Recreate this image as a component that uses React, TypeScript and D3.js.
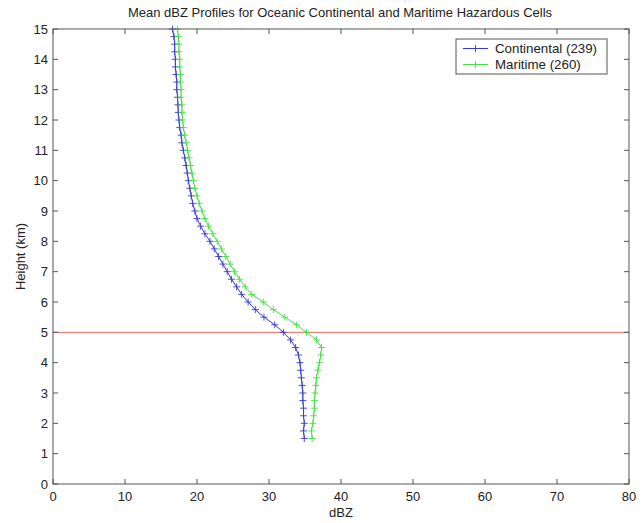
import * as d3 from 'd3'

// heights (km) of the profile levels, 0.25 km apart
const heights = d3.range(1.5, 15.01, 0.25)

// mean dBZ per level
const continental = [
  34.9, 34.8, 34.9, 34.8, 34.8, 34.7, 34.7, 34.6, 34.5, 34.4, 34.3, 34.1, 33.7, 33.0,
  32.0, 30.8, 29.3, 28.1, 27.1, 26.2, 25.5, 24.8, 24.2, 23.6, 23.0, 22.4, 21.8, 21.1,
  20.5, 20.0, 19.7, 19.4, 19.2, 19.0, 18.8, 18.65, 18.5, 18.3, 18.1, 17.9, 17.8, 17.6,
  17.5, 17.4, 17.35, 17.3, 17.2, 17.2, 17.1, 17.0, 17.0, 16.9, 16.9, 16.8, 16.6,
]
const maritime = [
  36.0, 35.9, 36.1, 36.2, 36.3, 36.3, 36.4, 36.5, 36.6, 36.8, 37.0, 37.2, 37.3, 36.6,
  35.2, 33.8, 32.2, 30.6, 29.2, 27.6, 26.7, 25.9, 25.2, 24.6, 24.0, 23.4, 22.8, 22.2,
  21.6, 21.1, 20.7, 20.3, 20.0, 19.7, 19.5, 19.3, 19.1, 18.9, 18.7, 18.5, 18.3, 18.1,
  18.0, 17.9, 17.9, 17.8, 17.8, 17.7, 17.7, 17.6, 17.6, 17.5, 17.5, 17.4, 17.3,
]
const seriesNames = ['Continental (239)', 'Maritime (260)']
const seriesColors = ['#3a3ad0', '#44e044']
const xTicks = [0, 10, 20, 30, 40, 50, 60, 70, 80]
const yTicks = d3.range(0, 16)
const freezingLevel = 5

const W = 644
const H = 523
const left = 53
const right = 629
const top = 29
const bottom = 484
const font = '"Liberation Sans", Arial, sans-serif'

export default function App() {
  const x = d3.scaleLinear().domain([0, 80]).range([left, right])
  const y = d3.scaleLinear().domain([0, 15]).range([bottom, top])

  const line = d3.line<[number, number]>()
    .x(d => x(d[0]))
    .y(d => y(d[1]))

  const series = [continental, maritime].map(vals =>
    vals.map((v, i) => [v, heights[i]] as [number, number]))

  const plus = (cx: number, cy: number, color: string, key: string) => (
    <path key={key} d={`M${cx - 3.5},${cy}H${cx + 3.5}M${cx},${cy - 3.5}V${cy + 3.5}`}
      stroke={color} strokeWidth={0.9} />
  )

  const tickLen = 5
  const axisColor = '#555'

  return (
    <svg width={W} height={H} style={{ position: 'absolute', left: 0, top: 0, background: '#fff' }}
      fontFamily={font}>
      <rect x={0} y={0} width={W} height={H} fill="#fff" />

      {/* title */}
      <text x={(left + right) / 2 - 1} y={17} textAnchor="middle" fontSize={13} fill="#222">
        Mean dBZ Profiles for Oceanic Continental and Maritime Hazardous Cells
      </text>

      {/* freezing level */}
      <line x1={left} x2={right} y1={y(freezingLevel)} y2={y(freezingLevel)}
        stroke="#e06a6a" strokeWidth={1} />

      {/* profiles */}
      {series.map((pts, si) => (
        <g key={si}>
          <path d={line(pts) ?? ''} fill="none" stroke={seriesColors[si]} strokeWidth={1} />
          {pts.map((p, i) => plus(x(p[0]), y(p[1]), seriesColors[si], `${si}-${i}`))}
        </g>
      ))}

      {/* axes box */}
      <rect x={left} y={top} width={right - left} height={bottom - top}
        fill="none" stroke={axisColor} strokeWidth={1} />

      {xTicks.map(t => (
        <g key={'x' + t}>
          <line x1={x(t)} x2={x(t)} y1={bottom} y2={bottom - tickLen} stroke={axisColor} />
          <line x1={x(t)} x2={x(t)} y1={top} y2={top + tickLen} stroke={axisColor} />
          <text x={x(t)} y={bottom + 17} textAnchor="middle" fontSize={13} fill="#222">{t}</text>
        </g>
      ))}
      {yTicks.map(t => (
        <g key={'y' + t}>
          <line x1={left} x2={left + tickLen} y1={y(t)} y2={y(t)} stroke={axisColor} />
          <line x1={right} x2={right - tickLen} y1={y(t)} y2={y(t)} stroke={axisColor} />
          <text x={left - 5} y={y(t) + 4.5} textAnchor="end" fontSize={13} fill="#222">{t}</text>
        </g>
      ))}

      {/* axis labels */}
      <text x={(left + right) / 2} y={517} textAnchor="middle" fontSize={13} fill="#222">dBZ</text>
      <text transform={`translate(25,${(top + bottom) / 2}) rotate(-90)`} textAnchor="middle"
        fontSize={13} fill="#222">Height (km)</text>

      {/* legend */}
      <rect x={456} y={39} width={151} height={35} fill="#fff" stroke={axisColor} strokeWidth={1} />
      {seriesNames.map((name, i) => {
        const ly = 48.5 + i * 16
        return (
          <g key={name}>
            <line x1={463} x2={488} y1={ly} y2={ly} stroke={seriesColors[i]} strokeWidth={1} />
            {plus(475.5, ly, seriesColors[i], 'l' + i)}
            <text x={495} y={ly + 4.5} fontSize={13.3} fill="#222">{name}</text>
          </g>
        )
      })}
    </svg>
  )
}
